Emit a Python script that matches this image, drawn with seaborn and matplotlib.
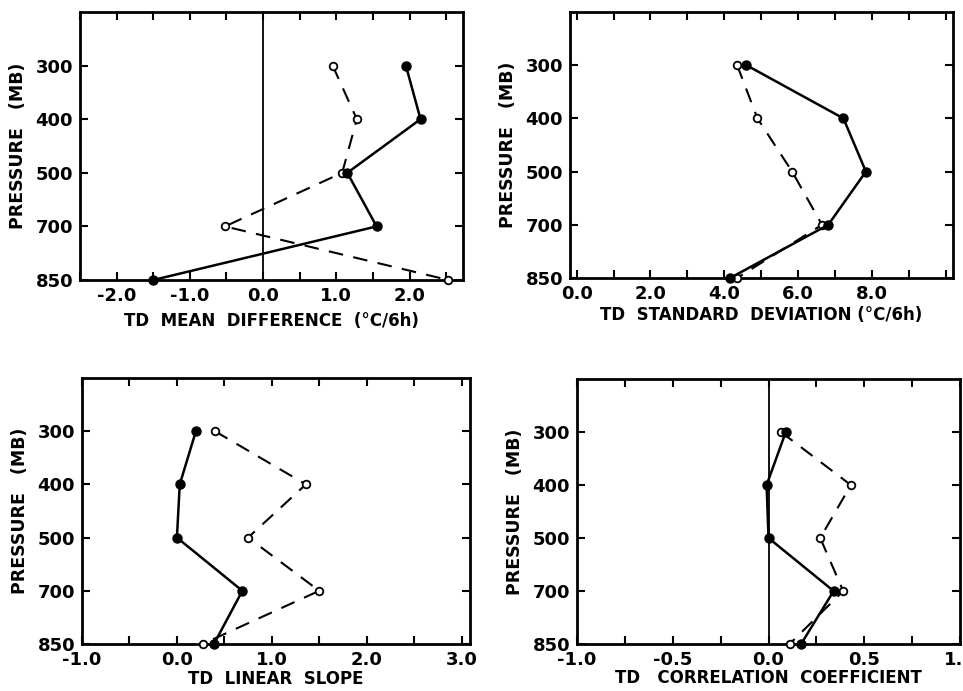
import matplotlib
matplotlib.use("Agg")
import matplotlib.pyplot as plt
import seaborn as sns
import pandas as pd
from matplotlib.ticker import FixedLocator

# ---------------- data ----------------
pressure_levels = [300, 400, 500, 700, 850]
pressure_labels = ["300", "400", "500", "700", "850"]

mean_diff_solid = [1.95, 2.15, 1.15, 1.55, -1.5]
mean_diff_dashed = [0.95, 1.28, 1.08, -0.52, 2.53]

std_dev_solid = [4.6, 7.23, 7.84, 6.82, 4.16]
std_dev_dashed = [4.35, 4.9, 5.84, 6.65, 4.35]

slope_solid = [0.2, 0.03, 0.0, 0.69, 0.39]
slope_dashed = [0.4, 1.36, 0.75, 1.5, 0.27]

corr_solid = [0.09, -0.01, 0.0, 0.34, 0.17]
corr_dashed = [0.065, 0.43, 0.27, 0.39, 0.11]

xlabels = [
    "TD  MEAN  DIFFERENCE  (°C/6h)",
    "TD  STANDARD  DEVIATION (°C/6h)",
    "TD  LINEAR  SLOPE",
    "TD   CORRELATION  COEFFICIENT",
]
ylabel_text = "PRESSURE   (MB)"

mean_diff_ticks = [-2.0, -1.0, 0.0, 1.0, 2.0]
mean_diff_ticklabels = ["-2.0", "-1.0", "0.0", "1.0", "2.0"]
mean_diff_minor = [-2.5, -1.5, -0.5, 0.5, 1.5, 2.5]

std_dev_ticks = [0.0, 2.0, 4.0, 6.0, 8.0]
std_dev_ticklabels = ["0.0", "2.0", "4.0", "6.0", "8.0"]
std_dev_minor = [1.0, 3.0, 5.0, 7.0, 9.0, 10.0]

slope_ticks = [-1.0, 0.0, 1.0, 2.0, 3.0]
slope_ticklabels = ["-1.0", "0.0", "1.0", "2.0", "3.0"]
slope_minor = [-0.5, 0.5, 1.5, 2.5]

corr_ticks = [-1.0, -0.5, 0.0, 0.5, 1.0]
corr_ticklabels = ["-1.0", "-0.5", "0.0", "0.5", "1.0"]
corr_minor = [-0.75, -0.25, 0.25, 0.75]

# ---------------- style ----------------
sns.set_style("ticks")
plt.rcParams["font.family"] = ["DejaVu Sans"]
plt.rcParams["axes.unicode_minus"] = False
plt.rcParams["text.color"] = "black"
plt.rcParams["axes.labelcolor"] = "black"
plt.rcParams["xtick.color"] = "black"
plt.rcParams["ytick.color"] = "black"
plt.rcParams["axes.edgecolor"] = "black"

fig = plt.figure(figsize=(9.63, 6.91), dpi=100)

# level -> evenly spaced position (top edge of axes is one slot above 300)
level_pos = {lvl: i + 1 for i, lvl in enumerate(pressure_levels)}
ypos = [level_pos[l] for l in pressure_levels]

panels = [
    dict(rect=[0.0831, 0.5948, 0.3977, 0.3878], solid=mean_diff_solid, dashed=mean_diff_dashed,
         xlim=(-2.5, 2.73), ticks=mean_diff_ticks, tl=mean_diff_ticklabels, minor=mean_diff_minor,
         zero=True, xl=xlabels[0], lp=5),
    dict(rect=[0.5919, 0.5977, 0.3977, 0.3850], solid=std_dev_solid, dashed=std_dev_dashed,
         xlim=(-0.18, 10.2), ticks=std_dev_ticks, tl=std_dev_ticklabels, minor=std_dev_minor,
         zero=False, xl=xlabels[1], lp=2),
    dict(rect=[0.0852, 0.0680, 0.4029, 0.3850], solid=slope_solid, dashed=slope_dashed,
         xlim=(-1.0, 3.09), ticks=slope_ticks, tl=slope_ticklabels, minor=slope_minor,
         zero=False, xl=xlabels[2], lp=1),
    dict(rect=[0.5992, 0.0680, 0.3977, 0.3835], solid=corr_solid, dashed=corr_dashed,
         xlim=(-1.0, 1.0), ticks=corr_ticks, tl=corr_ticklabels, minor=corr_minor,
         zero=True, xl=xlabels[3], lp=0),
]

for p in panels:
    ax = fig.add_axes(p["rect"])
    if p["zero"]:
        ax.axvline(0.0, color="black", lw=1.3, zorder=1)
    df_s = pd.DataFrame({"value": p["solid"], "pos": ypos})
    df_d = pd.DataFrame({"value": p["dashed"], "pos": ypos})
    sns.lineplot(data=df_d, x="value", y="pos", sort=False, estimator=None, ax=ax,
                 color="black", lw=1.5, linestyle=(0, (7, 5)), marker="o", markersize=5.5,
                 markerfacecolor="white", markeredgecolor="black", markeredgewidth=1.3,
                 clip_on=False, zorder=3)
    sns.lineplot(data=df_s, x="value", y="pos", sort=False, estimator=None, ax=ax,
                 color="black", lw=1.8, linestyle="-", marker="o", markersize=6.5,
                 markerfacecolor="black", markeredgecolor="black", markeredgewidth=1,
                 clip_on=False, zorder=4)
    ax.set_xlim(*p["xlim"])
    ax.set_ylim(5, 0)
    ax.set_yticks(ypos)
    ax.set_yticklabels(pressure_labels, fontweight="bold")
    ax.xaxis.set_major_locator(FixedLocator(p["ticks"]))
    ax.set_xticklabels(p["tl"], fontweight="bold")
    ax.xaxis.set_minor_locator(FixedLocator(p["minor"]))
    ax.tick_params(axis="both", which="both", direction="in", top=True, right=True,
                   length=6, width=1.5, labelsize=13, pad=5)
    for sp in ax.spines.values():
        sp.set_linewidth(2)
        sp.set_visible(True)
    ax.set_xlabel(p["xl"], fontsize=12, fontweight="bold", labelpad=p["lp"])
    ax.set_ylabel(ylabel_text, fontsize=12.5, fontweight="bold", labelpad=6)

fig.savefig("out.png", dpi=100)
